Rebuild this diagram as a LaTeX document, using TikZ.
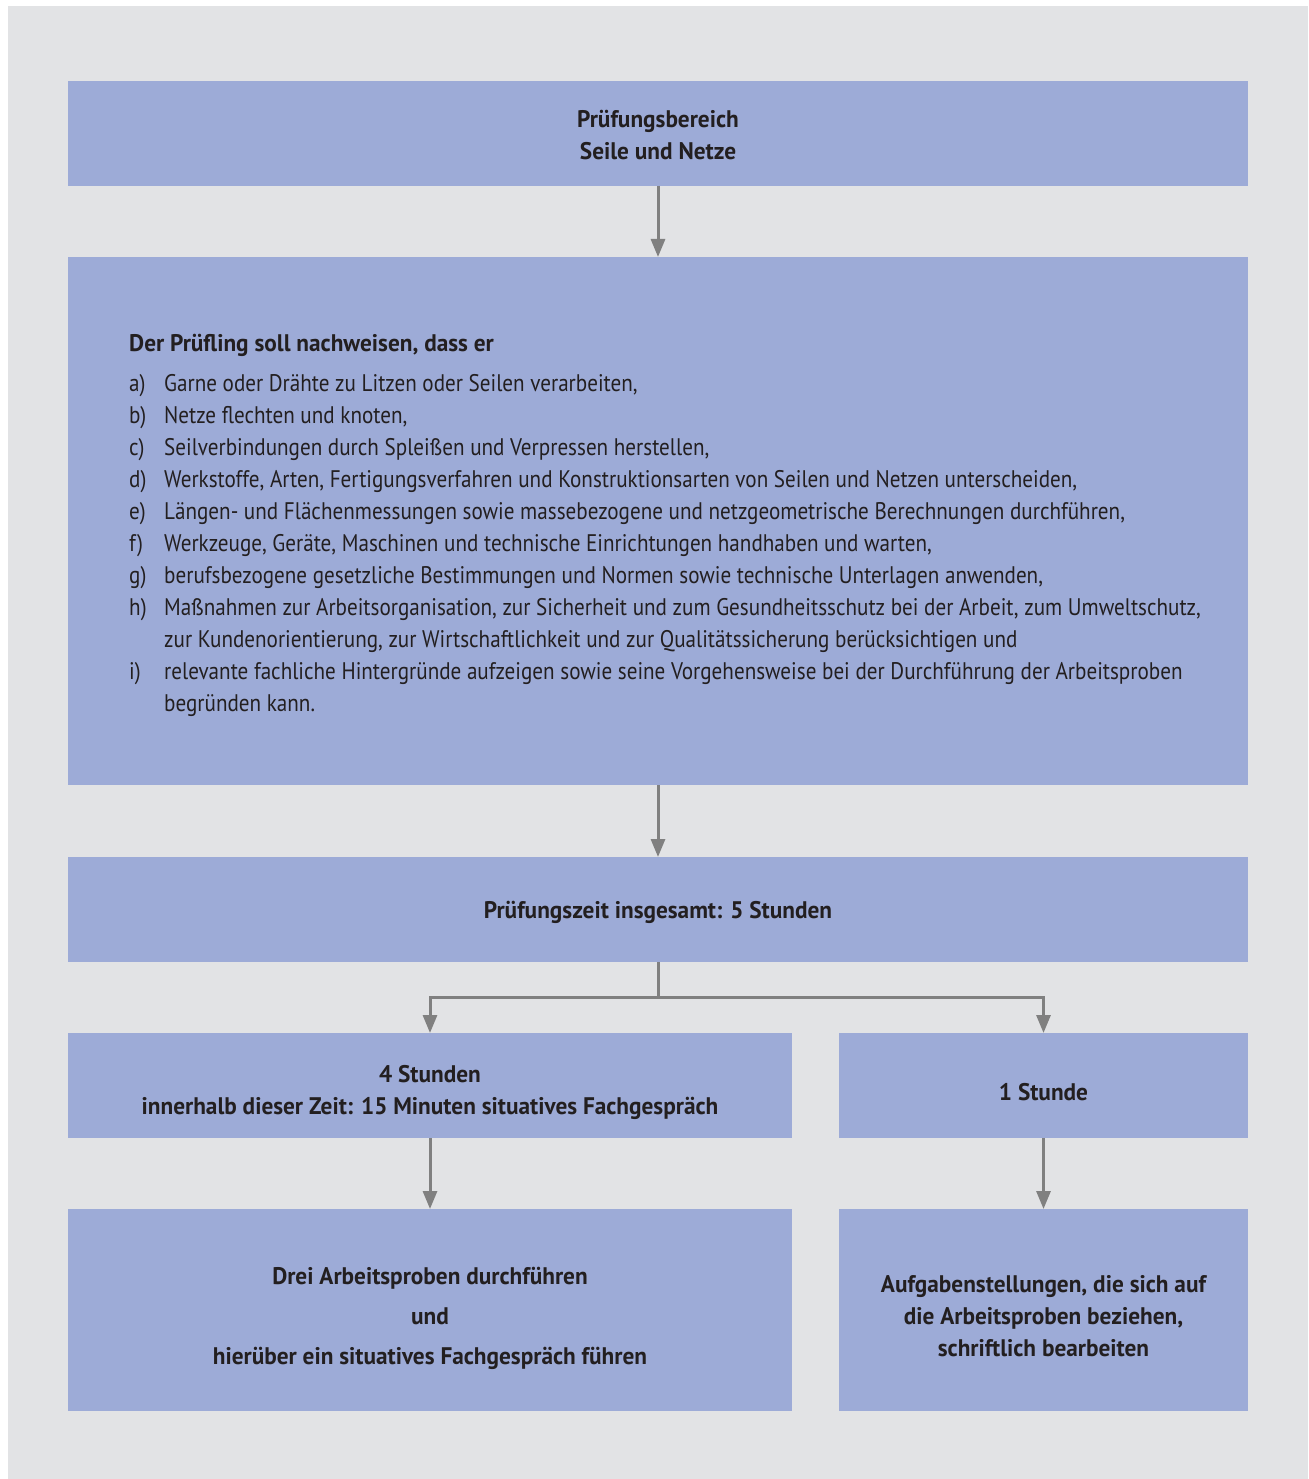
\documentclass[tikz,border=0pt]{standalone}
\usepackage{fontspec}
\setmainfont{PT Sans}
\newfontfamily\regf{PT Sans}[FakeStretch=0.88]
\newfontfamily\boldf{PT Sans}[FakeStretch=0.97]
\usetikzlibrary{arrows.meta}
\definecolor{bgc}{HTML}{E2E3E5}
\definecolor{boxc}{HTML}{9DABD7}
\definecolor{arrc}{HTML}{808080}
\definecolor{txtc}{HTML}{231F20}
\begin{document}
\begin{tikzpicture}[x=1pt,y=-1pt,
  boxshape/.style={fill=boxc, draw=none, inner sep=0pt, outer sep=0pt},
  btext/.style={text=txtc, inner sep=0pt, align=center, font=\fontsize{24}{32}\selectfont\boldf\bfseries},
  rtext/.style={text=txtc, inner sep=0pt, anchor=base west, font=\fontsize{24}{32}\selectfont\regf},
  link/.style={draw=arrc, line width=3pt},
  conn/.style={link, -{Triangle[length=18pt,width=14pt]}}]
\useasboundingbox (0,0) rectangle (1308,1479);
\fill[white] (0,0) rectangle (1308,1479);
\fill[bgc] (8,6) rectangle (1308,1479);

% boxes
\node[boxshape, minimum width=1180pt, minimum height=105pt] (top) at (658,133.5) {};
\node[boxshape, minimum width=1180pt, minimum height=528pt] (big) at (658,521) {};
\node[boxshape, minimum width=1180pt, minimum height=105pt] (zeit) at (658,909.5) {};
\node[boxshape, minimum width=724pt, minimum height=105pt] (vier) at (430,1085.5) {};
\node[boxshape, minimum width=409pt, minimum height=105pt] (eins) at (1043.5,1085.5) {};
\node[boxshape, minimum width=724pt, minimum height=202pt] (drei) at (430,1310) {};
\node[boxshape, minimum width=409pt, minimum height=202pt] (aufg) at (1043.5,1310) {};

% texts
\node[btext] (ttop) at (658,135) {Prüfungsbereich\\Seile und Netze};
\node[btext, anchor=base west] (head) at (129,351) {Der Prüfling soll nachweisen, dass er};
\foreach \lab/\txt/\yy [count=\i] in {
  a)/{Garne oder Drähte zu Litzen oder Seilen verarbeiten,}/383,
  b)/{Netze flechten und knoten,}/415,
  c)/{Seilverbindungen durch Spleißen und Verpressen herstellen,}/447,
  d)/{Werkstoffe, Arten, Fertigungsverfahren und Konstruktionsarten von Seilen und Netzen unterscheiden,}/479,
  e)/{Längen- und Flächenmessungen sowie massebezogene und netzgeometrische Berechnungen durchführen,}/511,
  f)/{Werkzeuge, Geräte, Maschinen und technische Einrichtungen handhaben und warten,}/543,
  g)/{berufsbezogene gesetzliche Bestimmungen und Normen sowie technische Unterlagen anwenden,}/575,
  h)/{Maßnahmen zur Arbeitsorganisation, zur Sicherheit und zum Gesundheitsschutz bei der Arbeit, zum Umweltschutz,}/607,
  i)/{relevante fachliche Hintergründe aufzeigen sowie seine Vorgehensweise bei der Durchführung der Arbeitsproben}/671} {
  \node[rtext] (lab\i) at (129,\yy+8) {\lab};
  \node[rtext] (item\i) at (164,\yy+8) {\txt};
}
\node[rtext] (itemh2) at (164,647) {zur Kundenorientierung, zur Wirtschaftlichkeit und zur Qualitätssicherung berücksichtigen und};
\node[rtext] (itemi2) at (164,711) {begründen kann.};

\node[btext] (tzeit) at (658,912) {Prüfungszeit insgesamt: 5 Stunden};
\node[btext] (tvier) at (430,1092) {4 Stunden\\innerhalb dieser Zeit: 15 Minuten situatives Fachgespräch};
\node[btext] (teins) at (1043.5,1092) {1 Stunde};
\node[btext] (tdrei) at (430,1318) {Drei Arbeitsproben durchführen\\[8pt]und\\[8pt]hierüber ein situatives Fachgespräch führen};
\node[btext] (taufg) at (1043.5,1316) {Aufgabenstellungen, die sich auf\\die Arbeitsproben beziehen,\\schriftlich bearbeiten};

% connectors
\draw[conn] (top.south) -- (big.north);
\draw[conn] (big.south) -- (zeit.north);
\coordinate (split) at (658,997);
\draw[link] (zeit.south) -- (split);
\draw[conn] (split) -| (vier.north);
\draw[conn] (split) -| (eins.north);
\draw[conn] (vier.south) -- (drei.north);
\draw[conn] (eins.south) -- (aufg.north);
\end{tikzpicture}
\end{document}
